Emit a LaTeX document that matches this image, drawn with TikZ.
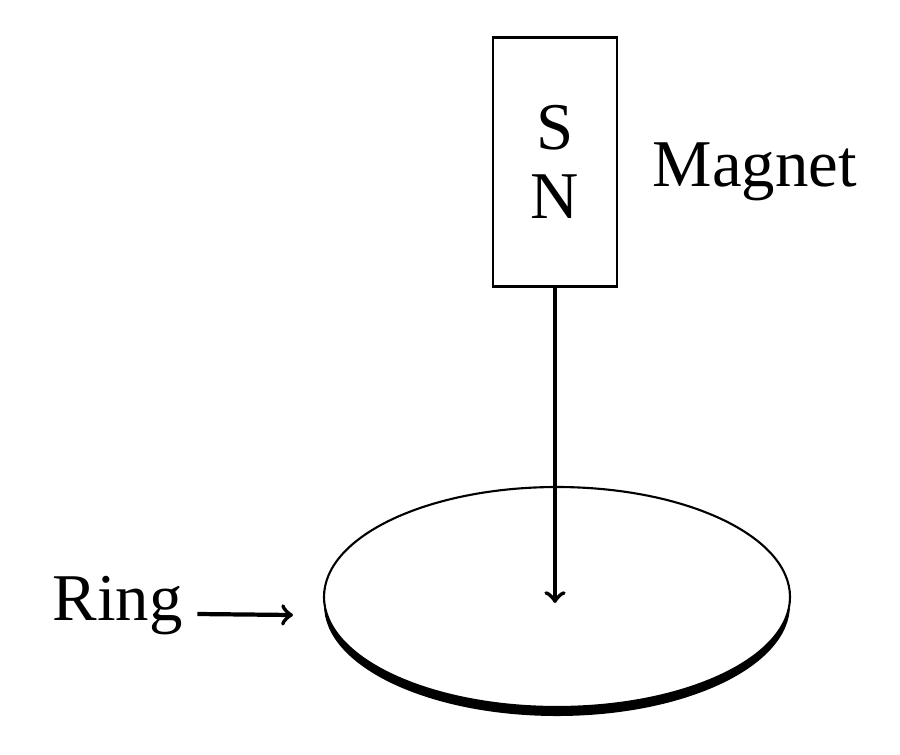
\documentclass[tikz,border=0pt]{standalone}
\usepackage{fontspec}
\setmainfont{Liberation Serif}
\begin{document}
\begin{tikzpicture}[x=0.01cm,y=-0.01cm,>=to,
  lbl/.style={font=\fontsize{19}{22}\selectfont,inner sep=0pt}]
\useasboundingbox (0,0) rectangle (900,754);
% ring with thick lower rim
\fill (557,605) ellipse [x radius=233, y radius=111];
\draw[fill=white,line width=0.6pt] (557,597) ellipse [x radius=233, y radius=110];
\node[draw,line width=0.8pt,minimum width=1.24cm,minimum height=2.49cm,inner sep=0pt] (magnet) at (555,162) {};
\node[lbl] (s) at (555,128) {S};
\node[lbl] (n) at (555,197) {N};
\node[lbl,anchor=west] (mlabel) at (652,172) {Magnet};
\coordinate (centre) at (555,603);
\draw[->,line width=1.2pt] (magnet.south) -- (centre);
\node[lbl,anchor=west] (ring) at (52,606) {Ring};
\coordinate (rim) at (293,615);
\draw[->,line width=1.2pt] (ring.east) ++(14,8) -- (rim);
\end{tikzpicture}
\end{document}
